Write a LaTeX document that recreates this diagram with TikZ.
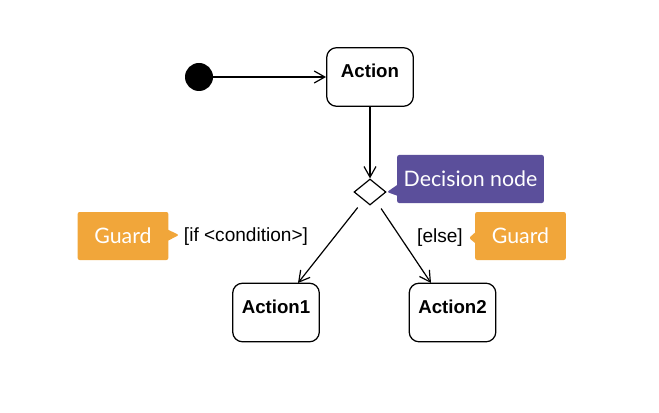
\documentclass[tikz,border=0pt]{standalone}
\usepackage{fontspec}
\setmainfont{Liberation Sans}
\newfontfamily\notefont{Lato}
\usetikzlibrary{arrows.meta,positioning,shapes.geometric,shapes.callouts}
\definecolor{notepurple}{RGB}{91,79,155}
\definecolor{noteorange}{RGB}{241,166,58}

\begin{document}
\begin{tikzpicture}[x=0.75pt, y=-0.75pt,
		>={Straight Barb[length=8pt,width=9pt]},
		action/.style={draw, line width=0.95pt, rounded corners=7.5pt, minimum width=65pt, minimum height=44pt,
			font=\bfseries\fontsize{14}{16}\selectfont, text height=10pt, text depth=9pt},
		flow/.style={->, line width=0.9pt},
		guardtext/.style={font=\fontsize{14.3}{17}\selectfont},
		callnote/.style={rectangle callout, fill=#1, text=white, rounded corners=1.5pt, minimum height=36pt,
			callout pointer width=8pt, font=\notefont\fontsize{16}{19}\selectfont}]
		% 1. Page frame (pixel units, y pointing down)
		\useasboundingbox (0,0) rectangle (659,413);

		% 2. Start, actions and the decision node
		\node[fill, circle, minimum size=21pt, inner sep=0pt] (start) at (199,77) {};
		\node[action] (act) at (370,77) {Action};
		\node[draw, diamond, line width=0.9pt, minimum width=24pt, minimum height=19.5pt, inner sep=0pt] (dec) at (370,192) {};
		\node[action] (act1) at (276,312.5) {Action1};
		\node[action] (act2) at (452.5,312.5) {Action2};

		% entry points on top of Action1 / Action2
		\coordinate (in1) at (298,283);
		\coordinate (in2) at (431,283);

		% 3. Flows
		\draw[flow] (start) -- (act);
		\draw[flow] (act) -- (dec);
		\draw[flow, shorten <=7pt] (dec) -- (in1);
		\draw[flow, shorten <=7pt] (dec) -- (in2);

		% 4. Guard conditions
		\node[guardtext] (cond) at (246,237) {[if <condition>]};
		\node[guardtext] (els) at (440,238) {[else]};

		% 5. Callout notes
		\node[callnote=notepurple, minimum width=110pt, callout absolute pointer={(387,192)}] (decnote) at (470.5,179) {Decision node};
		\node[callnote=noteorange, minimum width=68pt, callout absolute pointer={(179,235)}] (guard1) at (123,236) {Guard};
		\node[callnote=noteorange, minimum width=68pt, callout absolute pointer={(469,238)}] (guard2) at (520.5,236) {Guard};
	\end{tikzpicture}
\end{document}
